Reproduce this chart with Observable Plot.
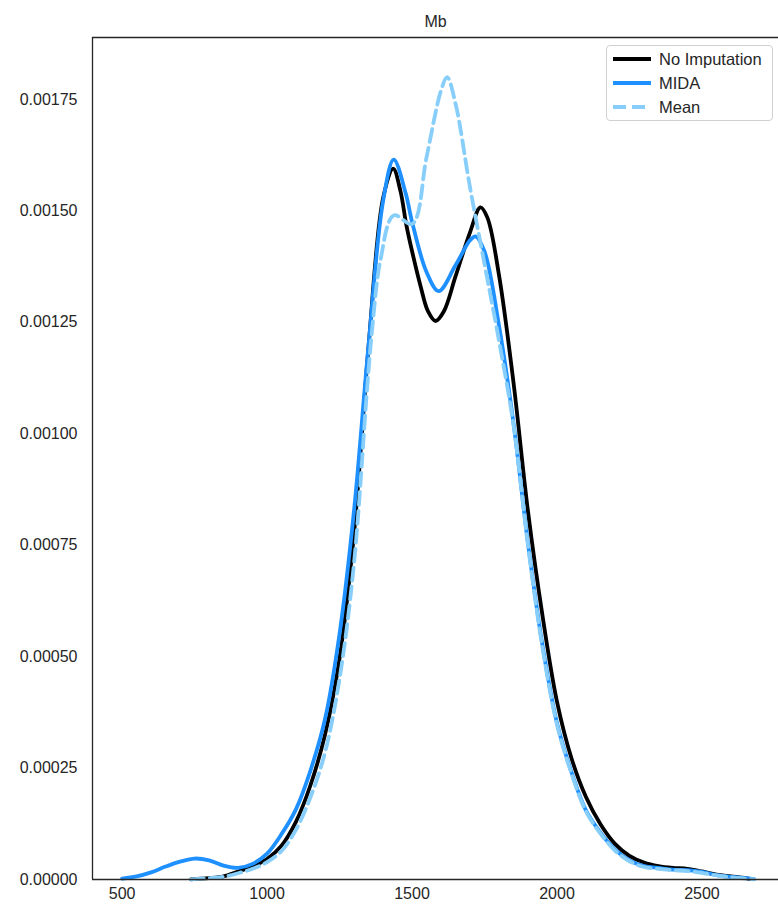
<!DOCTYPE html>
<html>
<head>
<meta charset="utf-8">
<script src="https://cdn.jsdelivr.net/npm/d3@7"></script>
<script src="https://cdn.jsdelivr.net/npm/@observablehq/plot@0.6"></script>
<style>
  html, body { margin: 0; padding: 0; background: #fff; }
  #wrap { position: relative; width: 778px; height: 909px; font-family: "Liberation Sans", Arial, sans-serif; }
  #legend { position: absolute; left: 606px; top: 45px; width: 167px; height: 76px; border: 1px solid #d0d0d0; border-radius: 4px; background: rgba(255,255,255,0.8); box-sizing: border-box; }
  .row { position: absolute; left: 0; height: 20px; display: flex; align-items: center; }
  .row svg { margin-left: 6px; }
  .row span { margin-left: 8px; font-size: 16.5px; color: #262626; }
</style>
</head>
<body>
<div id="wrap"><div id="chart"></div><div id="legend"></div></div>
<script>
// ---- data (density estimates) ----
const title = "Mb";
const seriesNames = ["No Imputation", "MIDA", "Mean"];
const seriesColors = ["#000000", "#1e90ff", "#87cefa"];

const noImpX = [737, 800, 850, 900, 950, 1000, 1050, 1100, 1150, 1200, 1250, 1300, 1350, 1400, 1435, 1460, 1480, 1500, 1530, 1555, 1581, 1610, 1650, 1700, 1736, 1760, 1800, 1850, 1900, 1950, 2000, 2050, 2100, 2150, 2200, 2250, 2300, 2350, 2400, 2450, 2500, 2550, 2600, 2650, 2670];
const noImpY = [0.0000005, 0.000003, 0.000007, 0.000018, 0.000029, 0.000046, 0.000076, 0.000130, 0.000212, 0.000325, 0.000496, 0.000776, 0.001195, 0.001528, 0.001595, 0.001545, 0.001470, 0.001410, 0.001330, 0.001275, 0.001253, 0.001275, 0.001353, 0.001452, 0.001508, 0.001485, 0.001356, 0.001115, 0.000826, 0.000592, 0.000399, 0.000272, 0.000185, 0.000124, 0.000080, 0.000053, 0.000038, 0.000030, 0.000026, 0.000024, 0.000018, 0.000011, 0.000007, 0.000003, 0.000001];

const midaX = [500, 550, 600, 650, 700, 750, 800, 850, 900, 950, 1000, 1050, 1100, 1150, 1200, 1250, 1300, 1350, 1400, 1437, 1478, 1500, 1550, 1592, 1650, 1700, 1719, 1750, 1800, 1850, 1900, 1950, 2000, 2050, 2100, 2150, 2200, 2250, 2300, 2350, 2400, 2450, 2500, 2550, 2600, 2650, 2680];
const midaY = [0.000002, 0.000007, 0.000016, 0.000029, 0.000040, 0.000047, 0.000043, 0.000031, 0.000026, 0.000035, 0.000058, 0.000102, 0.000158, 0.000245, 0.000360, 0.000551, 0.000828, 0.001198, 0.001521, 0.001615, 0.001540, 0.001476, 0.001363, 0.001320, 0.001378, 0.001434, 0.001443, 0.001409, 0.001243, 0.001024, 0.000754, 0.000526, 0.000351, 0.000241, 0.000155, 0.000105, 0.000067, 0.000043, 0.000030, 0.000026, 0.000022, 0.000021, 0.000017, 0.000010, 0.000006, 0.000003, 0.000001];

const meanX = [737, 800, 850, 900, 950, 1000, 1050, 1100, 1150, 1200, 1250, 1300, 1345, 1363, 1391, 1437, 1501, 1550, 1600, 1621, 1650, 1700, 1750, 1800, 1850, 1900, 1950, 2000, 2050, 2100, 2150, 2200, 2250, 2300, 2350, 2400, 2450, 2500, 2550, 2600, 2650, 2680];
const meanY = [0.0000005, 0.000003, 0.000006, 0.000014, 0.000024, 0.000039, 0.000064, 0.000112, 0.000185, 0.000285, 0.000450, 0.000710, 0.001100, 0.001238, 0.001389, 0.001490, 0.001471, 0.001620, 0.001770, 0.001800, 0.001741, 0.001553, 0.001381, 0.001209, 0.001020, 0.000750, 0.000520, 0.000348, 0.000238, 0.000153, 0.000103, 0.000065, 0.000041, 0.000028, 0.000024, 0.000021, 0.000019, 0.000015, 0.000009, 0.000005, 0.000002, 0.0000005];

const xTicks = [500, 1000, 1500, 2000, 2500];
const yTicks = [0, 0.00025, 0.0005, 0.00075, 0.001, 0.00125, 0.0015, 0.00175];
const xDomain = [398, 2764];
const yDomain = [0, 0.0018891];

// ---- build tables ----
const toRows = (xs, ys, name) => xs.map((x, i) => ({x, y: ys[i], series: name}));
const noImp = toRows(noImpX, noImpY, seriesNames[0]);
const mida = toRows(midaX, midaY, seriesNames[1]);
const mean = toRows(meanX, meanY, seriesNames[2]);

const axisColor = "#262626";
const fontSize = 16;

const chart = Plot.plot({
  width: 778,
  height: 909,
  marginTop: 37,
  marginBottom: 30,
  marginLeft: 92,
  marginRight: 0,
  style: {fontFamily: '"Liberation Sans", Arial, sans-serif', fontSize: fontSize + "px", color: axisColor, background: "#fff"},
  x: {domain: xDomain, ticks: xTicks, tickFormat: d3.format("d"), tickSize: 0, tickPadding: 8, label: null},
  y: {domain: yDomain, ticks: yTicks, tickFormat: d3.format(".5f"), tickSize: 0, tickPadding: 15, label: null},
  marks: [
    Plot.line(noImp, {x: "x", y: "y", stroke: seriesColors[0], strokeWidth: 3.8, curve: "catmull-rom"}),
    Plot.line(mida, {x: "x", y: "y", stroke: seriesColors[1], strokeWidth: 3.8, curve: "catmull-rom"}),
    Plot.line(mean, {x: "x", y: "y", stroke: seriesColors[2], strokeWidth: 3.8, strokeDasharray: "13,6", curve: "catmull-rom"}),
    Plot.ruleX([xDomain[0]], {stroke: axisColor, strokeWidth: 1.3}),
    Plot.ruleY([yDomain[0]], {stroke: axisColor, strokeWidth: 1.3}),
    Plot.ruleY([yDomain[1]], {stroke: axisColor, strokeWidth: 1.3}),
    Plot.text([title], {frameAnchor: "top", dy: -22, fontSize: fontSize, fill: axisColor})
  ]
});
document.getElementById("chart").appendChild(chart);

// ---- legend ----
const legend = document.getElementById("legend");
seriesNames.forEach((name, i) => {
  const row = document.createElement("div");
  row.className = "row";
  row.style.top = (3 + i * 24) + "px";
  const dash = i === 2 ? 'stroke-dasharray="13,6"' : "";
  row.innerHTML = `<svg width="38" height="8"><line x1="0" y1="4" x2="38" y2="4" stroke="${seriesColors[i]}" stroke-width="3.8" ${dash}/></svg><span>${name}</span>`;
  legend.appendChild(row);
});
</script>
</body>
</html>
